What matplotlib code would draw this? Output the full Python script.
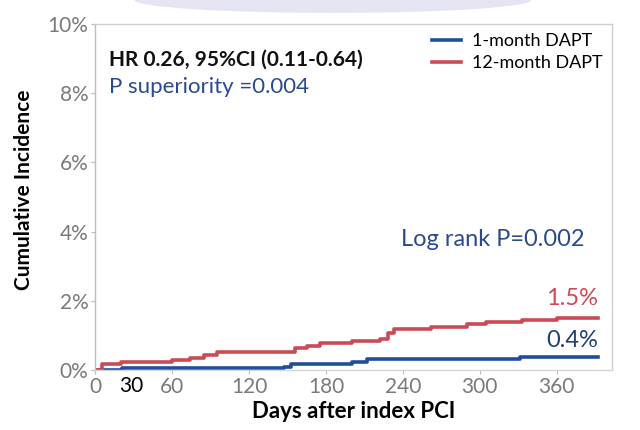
import matplotlib
matplotlib.use("Agg")
import matplotlib.pyplot as plt
from matplotlib.patches import Ellipse
from matplotlib.ticker import FuncFormatter

plt.rcParams['font.family'] = ['Lato', 'DejaVu Sans']

# step times (days) and cumulative incidence (%)
red_days = [0, 5, 20, 60, 74, 85, 95, 156, 165, 175, 200, 222, 228, 233, 262, 290, 305, 333, 360, 392]
red_inc = [0.0, 0.17, 0.23, 0.29, 0.35, 0.42, 0.52, 0.63, 0.70, 0.78, 0.84, 0.90, 1.07, 1.18, 1.24, 1.32, 1.39, 1.45, 1.51, 1.51]
blue_days = [0, 21, 147, 153, 200, 212, 331, 392]
blue_inc = [0.0, 0.05, 0.09, 0.18, 0.24, 0.32, 0.37, 0.37]

xticks = [0, 60, 120, 180, 240, 300, 360]
yticks = [0, 2, 4, 6, 8, 10]

red = '#cc4a55'
blue = '#1f4e9e'
navy = '#2b4a8e'
grey = '#7a7a7a'

fig = plt.figure(figsize=(6.4, 4.3), dpi=100)
ax = fig.add_axes([0.149, 0.140, 0.807, 0.804])

# faint decoration at top of slide
fig.patches.append(Ellipse((0.52, 1.0), 0.62, 0.06, transform=fig.transFigure,
                           facecolor='#e4e4f2', edgecolor='none', zorder=0))

ax.step(blue_days, blue_inc, where='post', color=blue, lw=2.6, label='1-month DAPT')
ax.step(red_days, red_inc, where='post', color=red, lw=2.6, label='12-month DAPT')

ax.set_xlim(0, 403)
ax.set_ylim(0, 10)
ax.set_xticks(xticks)
ax.set_yticks(yticks)
ax.yaxis.set_major_formatter(FuncFormatter(lambda v, p: '%d%%' % v))
ax.tick_params(colors='#bbbbbb', labelcolor=grey, labelsize=15, length=3, width=0.8, pad=2)
for s in ax.spines.values():
    s.set_color('#cfcfcf')
    s.set_linewidth(1.0)
ax.spines['left'].set_color('#bdbdbd')
ax.spines['bottom'].set_color('#d5d5d5')

# extra "30" label
ax.text(28, -0.17, '30', ha='center', va='top', fontsize=15, color='black')

ax.set_xlabel('Days after index PCI', fontsize=16, fontweight='bold', labelpad=3)
ax.set_ylabel('Cumulative Incidence', fontsize=15, fontweight='bold')
ax.yaxis.set_label_coords(-0.118, 0.52)

ax.text(11, 8.98, 'HR 0.26, 95%CI (0.11-0.64)', fontsize=15, fontweight='bold',
        color='#111111', va='center')
ax.text(11, 8.18, 'P superiority =0.004', fontsize=16, color=navy, va='center')
ax.text(382, 3.76, 'Log rank P=0.002', fontsize=17, color=navy, va='center', ha='right')
ax.text(392, 2.07, '1.5%', fontsize=17, color=red, va='center', ha='right')
ax.text(392, 0.86, '0.4%', fontsize=17, color='#1f3f7a', va='center', ha='right')

leg = ax.legend(loc='upper right', frameon=False, fontsize=13, handlelength=1.6,
                handletextpad=0.6, labelspacing=0.35, borderaxespad=0.1)

fig.savefig('out.png', dpi=100)
